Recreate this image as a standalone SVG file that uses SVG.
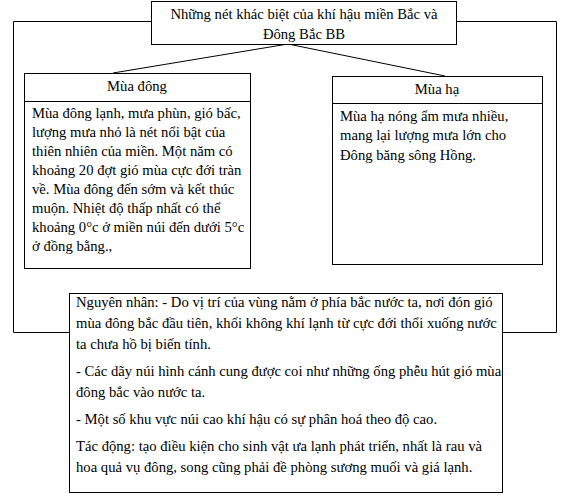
<svg xmlns="http://www.w3.org/2000/svg" width="575" height="503" viewBox="0 0 575 503">
<style>
.box{fill:#fff;stroke:#000;stroke-width:1}
.ln{fill:none;stroke:#000;stroke-width:1}
text{font-family:"Liberation Serif","Times New Roman",serif;font-size:14.67px;fill:#000}
.c{text-anchor:middle}
</style>
<rect width="575" height="503" fill="#fff"/>
<g id="connectors">
<polyline class="ln" points="151,21.5 13.5,21.5 13.5,332.5 69,332.5"/>
<polyline class="ln" points="456,21.5 556.5,21.5 556.5,332.5 502,332.5"/>
<line class="ln" x1="288" y1="44" x2="113" y2="73"/>
<line class="ln" x1="288" y1="44" x2="445" y2="76"/>
</g>
<g id="title">
<rect class="box" x="151.5" y="1.5" width="305" height="43"/>
<text class="c" x="304" y="19">Những nét khác biệt của khí hậu miền Bắc và</text>
<text class="c" x="304" y="39">Đông Bắc BB</text>
</g>
<g id="mua-dong">
<rect class="box" x="24.5" y="73.5" width="226" height="195"/>
<line class="ln" x1="24.5" y1="101.5" x2="250.5" y2="101.5"/>
<text class="c" x="137" y="91">Mùa đông</text>
<text x="32" y="118">Mùa đông lạnh, mưa phùn, gió bấc,</text>
<text x="32" y="137">lượng mưa nhỏ là nét nổi bật của</text>
<text x="32" y="156">thiên nhiên của miền. Một năm có</text>
<text x="32" y="175">khoảng 20 đợt gió mùa cực đới tràn</text>
<text x="32" y="194">về. Mùa đông đến sớm và kết thúc</text>
<text x="32" y="213">muộn. Nhiệt độ thấp nhất có thể</text>
<text x="32" y="232">khoảng 0°c ở miền núi đến dưới 5°c</text>
<text x="32" y="251">ở đồng bằng.,</text>
</g>
<g id="mua-ha">
<rect class="box" x="332.5" y="76.5" width="210" height="188"/>
<line class="ln" x1="332.5" y1="103.5" x2="542.5" y2="103.5"/>
<text class="c" x="437" y="94">Mùa hạ</text>
<text x="340" y="121">Mùa hạ nóng ẩm mưa nhiều,</text>
<text x="340" y="140">mang lại lượng mưa lớn cho</text>
<text x="340" y="160">Đông băng sông Hồng.</text>
</g>
<g id="nguyen-nhan">
<rect class="box" x="69.5" y="293.5" width="433" height="199"/>
<text x="76" y="307">Nguyên nhân: - Do vị trí của vùng nằm ở phía bắc nước ta, nơi đón gió</text>
<text x="76" y="328">mùa đông bắc đầu tiên, khối không khí lạnh từ cực đới thổi xuống nước</text>
<text x="76" y="349">ta chưa hồ bị biến tính.</text>
<text x="76" y="376">- Các dãy núi hình cánh cung được coi như những ống phễu hút gió mùa</text>
<text x="76" y="397">đông bắc vào nước ta.</text>
<text x="76" y="424">- Một số khu vực núi cao khí hậu có sự phân hoá theo độ cao.</text>
<text x="76" y="451">Tác động: tạo điều kiện cho sinh vật ưa lạnh phát triển, nhất là rau và</text>
<text x="76" y="472">hoa quả vụ đông, song cũng phải đề phòng sương muối và giá lạnh.</text>
</g>
</svg>
